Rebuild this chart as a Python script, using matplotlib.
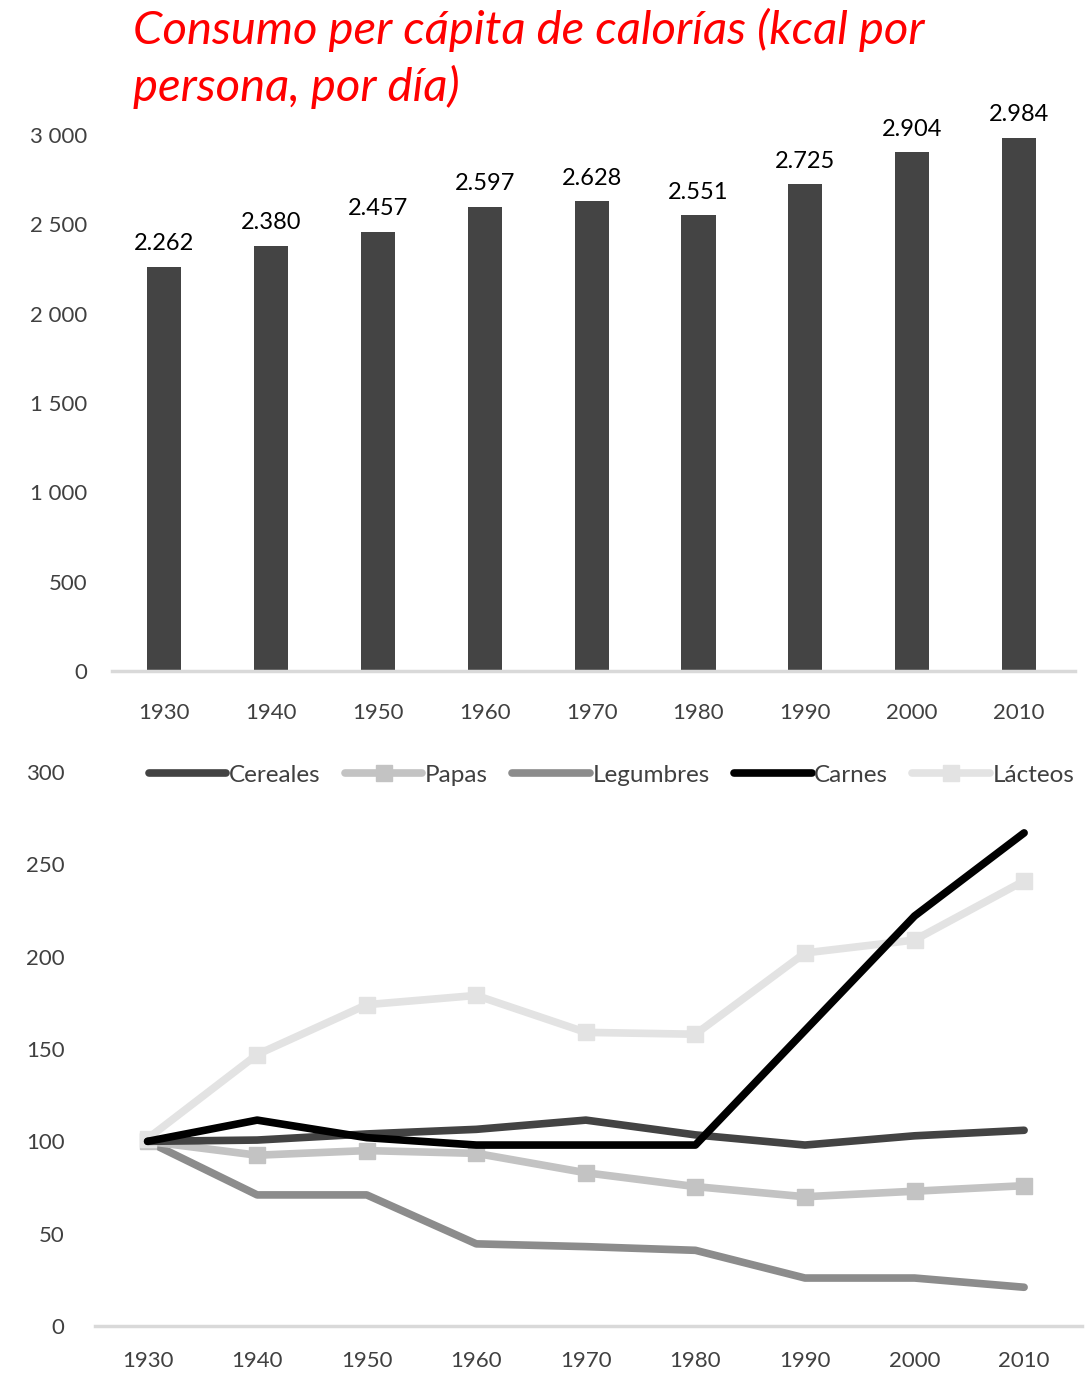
import numpy as np
import matplotlib.pyplot as plt
import matplotlib.ticker as mticker

plt.rcParams['font.family'] = ['Lato', 'DejaVu Sans']

# datos
years = ['1930', '1940', '1950', '1960', '1970', '1980', '1990', '2000', '2010']
kcal = [2262, 2380, 2457, 2597, 2628, 2551, 2725, 2904, 2984]
kcal_labels = ['2.262', '2.380', '2.457', '2.597', '2.628', '2.551', '2.725', '2.904', '2.984']

cereales = [100, 100.7, 104, 106.5, 111.5, 103.5, 98, 103, 106]
papas = [100, 92.5, 95, 93.5, 83, 75.5, 70, 73, 76]
legumbres = [100, 71, 71, 44.5, 43, 41, 26, 26, 21]
carnes = [100, 111.5, 102, 98, 98, 98, 160, 222, 267]
lacteos = [101.5, 147, 174, 179, 159, 158, 202, 209, 241]

tick_col = '#404040'
grid_col = '#d9d9d9'

fig = plt.figure(figsize=(10.92, 13.77), dpi=100)

# grafico de barras
ax1 = fig.add_axes([0.1026, 0.5127, 0.8814, 0.3893])
x = np.arange(len(years))
ax1.bar(x, kcal, width=0.32, color='#444444', zorder=2)
for xi, v, lab in zip(x, kcal, kcal_labels):
    ax1.text(xi, v + 70, lab, ha='center', va='bottom', fontsize=17, color='black', clip_on=False)
ax1.set_xlim(-0.49, 8.52)
ax1.set_ylim(0, 3000)
ax1.set_yticks([0, 500, 1000, 1500, 2000, 2500, 3000])
ax1.yaxis.set_major_formatter(mticker.FuncFormatter(lambda v, p: f'{int(v):,}'.replace(',', ' ')))
ax1.set_xticks(x)
ax1.set_xticklabels(years)
for s in ['top', 'right', 'left']:
    ax1.spines[s].set_visible(False)
ax1.spines['bottom'].set_color(grid_col)
ax1.spines['bottom'].set_linewidth(2.5)
ax1.tick_params(axis='both', length=0, labelsize=16, colors=tick_col)
ax1.tick_params(axis='x', pad=23)
ax1.tick_params(axis='y', pad=18)

fig.text(0.122, 0.994, 'Consumo per cápita de calorías (kcal por\npersona, por día)',
         ha='left', va='top', fontsize=34, style='italic', color='red', linespacing=1.33)

# grafico de lineas
ax2 = fig.add_axes([0.087, 0.037, 0.904, 0.4024])
lw = 5.5
ax2.plot(x, legumbres, color='#8c8c8c', lw=lw, solid_joinstyle='round', solid_capstyle='round', label='Legumbres', zorder=3)
ax2.plot(x, papas, color='#c3c3c3', lw=lw, marker='s', ms=11, solid_joinstyle='round', solid_capstyle='round', label='Papas', zorder=3)
ax2.plot(x, lacteos, color='#e3e3e3', lw=lw, marker='s', ms=11, solid_joinstyle='round', solid_capstyle='round', label='Lácteos', zorder=3)
ax2.plot(x, cereales, color='#434343', lw=lw, solid_joinstyle='round', solid_capstyle='round', label='Cereales', zorder=4)
ax2.plot(x, carnes, color='black', lw=lw, solid_joinstyle='round', solid_capstyle='round', label='Carnes', zorder=5)
ax2.set_xlim(-0.48, 8.53)
ax2.set_ylim(0, 300)
ax2.set_yticks([0, 50, 100, 150, 200, 250, 300])
ax2.set_xticks(x)
ax2.set_xticklabels(years)
for s in ['top', 'right', 'left']:
    ax2.spines[s].set_visible(False)
ax2.spines['bottom'].set_color(grid_col)
ax2.spines['bottom'].set_linewidth(2.5)
ax2.tick_params(axis='both', length=0, labelsize=16, colors=tick_col)
ax2.tick_params(axis='x', pad=18)
ax2.tick_params(axis='y', pad=22)

h, l = ax2.get_legend_handles_labels()
order = ['Cereales', 'Papas', 'Legumbres', 'Carnes', 'Lácteos']
hs = [h[l.index(n)] for n in order]
leg = fig.legend(hs, order, loc='center', bbox_to_anchor=(0.56, 0.437), ncol=5, frameon=False,
                 fontsize=17.5, handlelength=3.2, handletextpad=0.1, columnspacing=1.0, labelcolor=tick_col)

fig.savefig('out.png', dpi=100)
